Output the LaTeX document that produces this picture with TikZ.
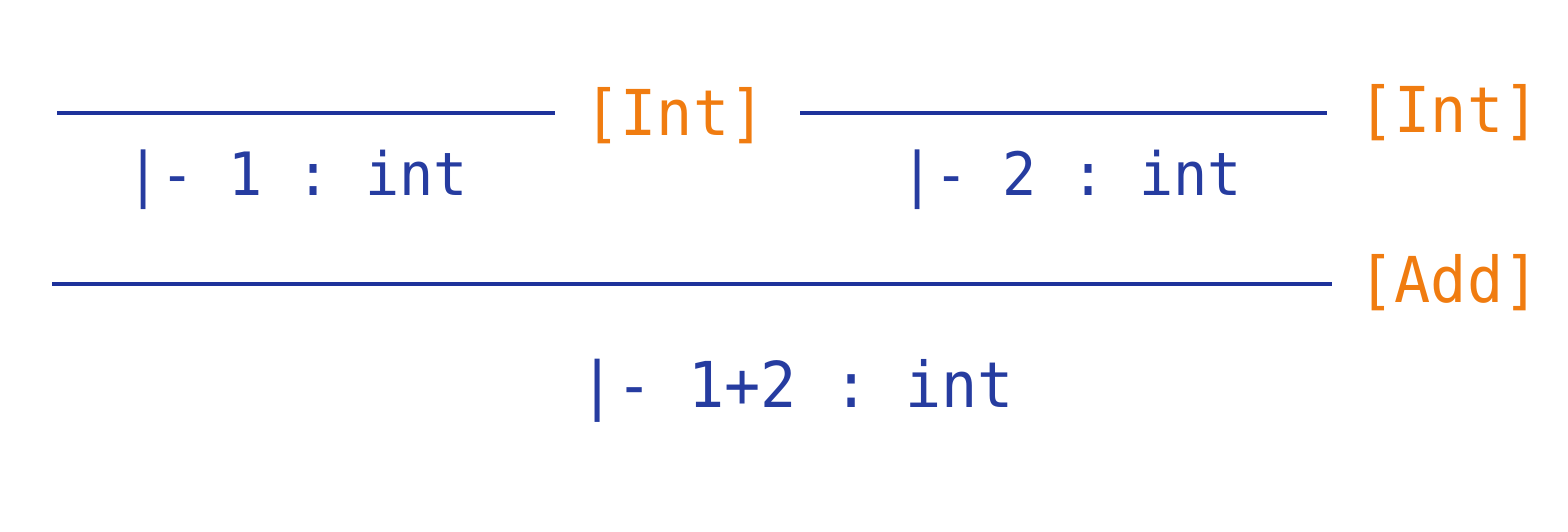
\documentclass[tikz,border=0pt]{standalone}
\usepackage{fontspec}
\setmonofont{DejaVu Sans Mono}[FakeStretch=0.95]
\definecolor{judgblue}{RGB}{38,60,160}
\definecolor{barblue}{RGB}{30,50,155}
\definecolor{rulename}{RGB}{240,124,16}

\begin{document}
\begin{tikzpicture}[
            bar/.style = {draw = barblue, line width = 0.9pt}, % inference bar
            judg/.style = {text = judgblue, inner sep = 0pt, anchor = base,
                font = \ttfamily\fontsize{17pt}{20pt}\selectfont},
            rname/.style = {text = rulename, inner sep = 0pt, anchor = base,
                font = \ttfamily\fontsize{18pt}{21pt}\selectfont}
        ]

        \useasboundingbox (0,0) rectangle (15.68,5.32);

        % premises
        \coordinate (int1l) at (0.57,4.19);
        \coordinate (int1r) at (5.55,4.19);
        \coordinate (int2l) at (8.00,4.19);
        \coordinate (int2r) at (13.27,4.19);
        \draw[bar] (int1l) -- (int1r);
        \draw[bar] (int2l) -- (int2r);
        \node[rname] (int1) at (6.75,3.96) {[Int]};
        \node[rname] (int2) at (14.49,3.99) {[Int]};
        \node[judg] (one) at (2.97,3.36) {|- 1 : int};
        \node[judg] (two) at (10.71,3.36) {|- 2 : int};

        % conclusion
        \coordinate (addl) at (0.52,2.48);
        \coordinate (addr) at (13.32,2.48);
        \draw[bar, line width = 1.1pt] (addl) -- (addr);
        \node[rname] (add) at (14.49,2.29) {[Add]};
        \node[judg, font = \ttfamily\fontsize{18pt}{21pt}\selectfont] (sum) at (7.97,1.24) {|- 1+2 : int};

\end{tikzpicture}
\end{document}
